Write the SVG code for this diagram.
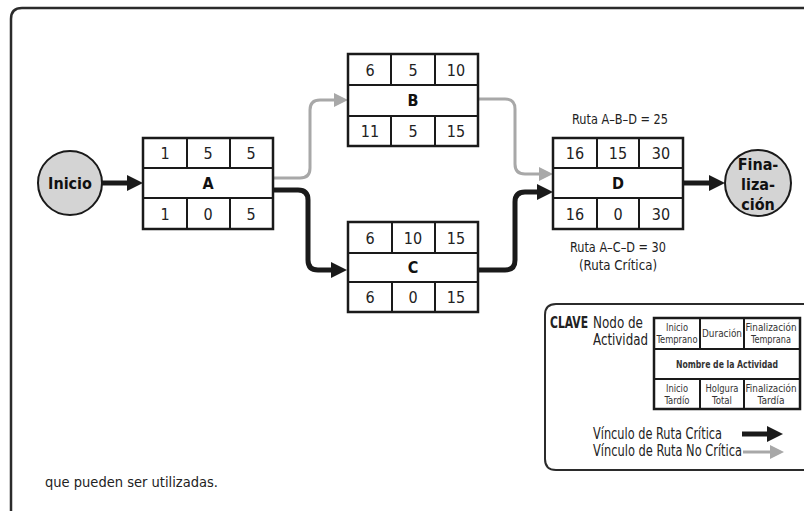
<svg xmlns="http://www.w3.org/2000/svg" width="804" height="511" viewBox="0 0 804 511">
  <defs>
    <style>
      .frame { fill: none; stroke: #2b2b2b; stroke-width: 2.5; }
      .box { fill: #fff; stroke: #1a1a1a; stroke-width: 2.5; }
      .grid { stroke: #1a1a1a; stroke-width: 2; fill: none; }
      .num { font-family: "Liberation Sans Narrow", "DejaVu Sans Condensed", "Liberation Sans", sans-serif; font-size: 16px; fill: #222; text-anchor: middle; }
      .name { font-family: "Liberation Sans Narrow", "DejaVu Sans Condensed", "Liberation Sans", sans-serif; font-size: 16px; font-weight: bold; fill: #111; text-anchor: middle; }
      .lbl { font-family: "Liberation Sans Narrow", "DejaVu Sans Condensed", "Liberation Sans", sans-serif; font-size: 14px; fill: #222; text-anchor: middle; }
      .key { font-family: "Liberation Sans Narrow", "DejaVu Sans Condensed", "Liberation Sans", sans-serif; font-size: 15px; fill: #222; }
      .tiny { font-family: "Liberation Sans Narrow", "DejaVu Sans Condensed", "Liberation Sans", sans-serif; font-size: 10px; fill: #333; text-anchor: middle; }
      .circ { fill: #d4d4d4; stroke: #1a1a1a; stroke-width: 2; }
      .crit { fill: none; stroke: #1a1a1a; stroke-width: 5; }
      .noncrit { fill: none; stroke: #a8a8a8; stroke-width: 3; }
    </style>
    <marker id="arrowBlack" markerUnits="userSpaceOnUse" viewBox="0 0 16 16" markerWidth="16" markerHeight="16" refX="4" refY="8" orient="auto">
      <path d="M0,0 L16,8 L0,16 z" fill="#1a1a1a"/>
    </marker>
    <marker id="arrowGray" markerUnits="userSpaceOnUse" viewBox="0 0 14 14" markerWidth="14" markerHeight="14" refX="3" refY="7" orient="auto">
      <path d="M0,0 L14,7 L0,14 z" fill="#a8a8a8"/>
    </marker>
  </defs>

  <rect width="804" height="511" fill="#fff"/>

  <!-- page frame, open on the right and bottom -->
  <path class="frame" d="M11,511 V19 Q11,8 22,8 H804"/>

  <!-- connectors -->
  <g id="connectors">
    <path class="crit" d="M102,183 H131" marker-end="url(#arrowBlack)"/>
    <path class="noncrit" d="M273,178 H300 Q310,178 310,168 V110 Q310,100 320,100 H337" marker-end="url(#arrowGray)"/>
    <path class="crit" d="M273,190 H298 Q308,190 308,200 V260 Q308,270 318,270 H335" marker-end="url(#arrowBlack)"/>
    <path class="noncrit" d="M478,99 H505 Q515,99 515,109 V164 Q515,174 525,174 H542" marker-end="url(#arrowGray)"/>
    <path class="crit" d="M478,270 H505 Q515,270 515,260 V202 Q515,192 525,192 H541" marker-end="url(#arrowBlack)"/>
    <path class="crit" d="M683,183 H713" marker-end="url(#arrowBlack)"/>
  </g>

  <!-- start / finish events -->
  <g id="inicio">
    <circle class="circ" cx="70" cy="183" r="32"/>
    <text class="name" x="70" y="189">Inicio</text>
  </g>
  <g id="finalizacion">
    <circle class="circ" cx="758" cy="183" r="33"/>
    <text class="name" x="758" y="170">Fina-</text>
    <text class="name" x="758" y="190">liza-</text>
    <text class="name" x="758" y="210">ción</text>
  </g>

  <!-- activity A -->
  <g id="node-A">
    <rect class="box" x="143" y="138" width="130" height="91"/>
    <path class="grid" d="M143,168 H273 M143,198 H273 M187,138 V168 M230,138 V168 M187,198 V229 M230,198 V229"/>
    <text class="num" x="165" y="159">1</text>
    <text class="num" x="208" y="159">5</text>
    <text class="num" x="251" y="159">5</text>
    <text class="name" x="208" y="189">A</text>
    <text class="num" x="165" y="220">1</text>
    <text class="num" x="208" y="220">0</text>
    <text class="num" x="251" y="220">5</text>
  </g>

  <!-- activity B -->
  <g id="node-B">
    <rect class="box" x="348" y="54" width="130" height="92"/>
    <path class="grid" d="M348,85 H478 M348,116 H478 M391,54 V85 M435,54 V85 M391,116 V146 M435,116 V146"/>
    <text class="num" x="370" y="76">6</text>
    <text class="num" x="413" y="76">5</text>
    <text class="num" x="456" y="76">10</text>
    <text class="name" x="413" y="106">B</text>
    <text class="num" x="370" y="137">11</text>
    <text class="num" x="413" y="137">5</text>
    <text class="num" x="456" y="137">15</text>
  </g>

  <!-- activity C -->
  <g id="node-C">
    <rect class="box" x="348" y="222" width="130" height="90"/>
    <path class="grid" d="M348,253 H478 M348,282 H478 M392,222 V253 M435,222 V253 M392,282 V312 M435,282 V312"/>
    <text class="num" x="370" y="244">6</text>
    <text class="num" x="413" y="244">10</text>
    <text class="num" x="456" y="244">15</text>
    <text class="name" x="413" y="273">C</text>
    <text class="num" x="370" y="303">6</text>
    <text class="num" x="413" y="303">0</text>
    <text class="num" x="456" y="303">15</text>
  </g>

  <!-- activity D -->
  <g id="node-D">
    <rect class="box" x="553" y="138" width="130" height="91"/>
    <path class="grid" d="M553,168 H683 M553,198 H683 M597,138 V168 M639,138 V168 M597,198 V229 M639,198 V229"/>
    <text class="num" x="575" y="159">16</text>
    <text class="num" x="618" y="159">15</text>
    <text class="num" x="661" y="159">30</text>
    <text class="name" x="618" y="189">D</text>
    <text class="num" x="575" y="220">16</text>
    <text class="num" x="618" y="220">0</text>
    <text class="num" x="661" y="220">30</text>
  </g>

  <!-- path totals -->
  <g id="path-labels">
    <text class="lbl" x="620" y="124" textLength="96" lengthAdjust="spacingAndGlyphs">Ruta A–B–D = 25</text>
    <text class="lbl" x="618" y="252" textLength="96" lengthAdjust="spacingAndGlyphs">Ruta A–C–D = 30</text>
    <text class="lbl" x="618" y="270" textLength="78" lengthAdjust="spacingAndGlyphs">(Ruta Crítica)</text>
  </g>

  <!-- legend -->
  <g id="legend">
    <path class="frame" style="stroke-width:2" d="M804,304 H556 Q545,304 545,315 V459 Q545,470 556,470 H804"/>
    <text class="key" x="550" y="328" style="font-weight:bold" textLength="38" lengthAdjust="spacingAndGlyphs">CLAVE</text>
    <text class="key" x="593" y="328" textLength="50" lengthAdjust="spacingAndGlyphs">Nodo de</text>
    <text class="key" x="593" y="345" textLength="55" lengthAdjust="spacingAndGlyphs">Actividad</text>
    <rect class="box" x="654" y="318" width="146" height="91"/>
    <path class="grid" d="M654,349 H800 M654,379 H800 M700,318 V349 M744,318 V349 M700,379 V409 M744,379 V409"/>
    <text class="tiny" x="677" y="331" textLength="22" lengthAdjust="spacingAndGlyphs">Inicio</text>
    <text class="tiny" x="677" y="343" textLength="41" lengthAdjust="spacingAndGlyphs">Temprano</text>
    <text class="tiny" x="722" y="337" textLength="40" lengthAdjust="spacingAndGlyphs">Duración</text>
    <text class="tiny" x="771" y="331" textLength="51" lengthAdjust="spacingAndGlyphs">Finalización</text>
    <text class="tiny" x="771" y="343" textLength="40" lengthAdjust="spacingAndGlyphs">Temprana</text>
    <text class="tiny" x="727" y="368" style="font-weight:bold" textLength="102" lengthAdjust="spacingAndGlyphs">Nombre de la Actividad</text>
    <text class="tiny" x="677" y="392" textLength="22" lengthAdjust="spacingAndGlyphs">Inicio</text>
    <text class="tiny" x="677" y="404" textLength="25" lengthAdjust="spacingAndGlyphs">Tardío</text>
    <text class="tiny" x="722" y="392" textLength="33" lengthAdjust="spacingAndGlyphs">Holgura</text>
    <text class="tiny" x="722" y="404" textLength="20" lengthAdjust="spacingAndGlyphs">Total</text>
    <text class="tiny" x="771" y="392" textLength="51" lengthAdjust="spacingAndGlyphs">Finalización</text>
    <text class="tiny" x="771" y="404" textLength="27" lengthAdjust="spacingAndGlyphs">Tardía</text>
    <text class="key" x="593" y="439" textLength="129" lengthAdjust="spacingAndGlyphs">Vínculo de Ruta Crítica</text>
    <text class="key" x="593" y="456" textLength="149" lengthAdjust="spacingAndGlyphs">Vínculo de Ruta No Crítica</text>
    <path class="crit" d="M742,434 H771" marker-end="url(#arrowBlack)"/>
    <path class="noncrit" d="M743,452 H773" marker-end="url(#arrowGray)"/>
  </g>

  <text class="key" x="45" y="487" style="font-size:14px" textLength="173" lengthAdjust="spacingAndGlyphs">que pueden ser utilizadas.</text>
</svg>
